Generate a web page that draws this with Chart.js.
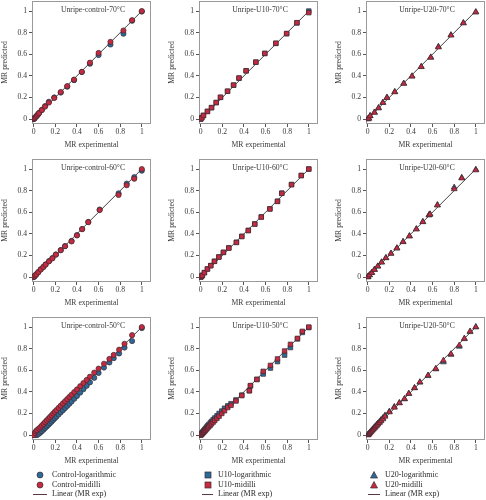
<!DOCTYPE html>
<html>
<head>
<meta charset="utf-8">
<script src="https://cdn.jsdelivr.net/npm/chart.js@4/dist/chart.umd.min.js"></script>
<style>
  html, body { margin: 0; padding: 0; background: #fff; overflow: hidden; }
  #page { position: relative; width: 486px; height: 500px; }
  canvas { position: absolute; }
  .lg { position: absolute; font: 8px "Liberation Serif", serif; color: #2a2a2a; white-space: nowrap; line-height: 10px; will-change: transform; }
  .lg svg { position: absolute; }
</style>
</head>
<body>
<div id="page"></div>
<script>
// ---- data ----
const TICKS = [0, 0.2, 0.4, 0.6, 0.8, 1];
const LINE_X = [0, 1];

// 70 °C
const C70_EXP = [0, 0.005, 0.01, 0.02, 0.03, 0.04, 0.05, 0.075, 0.105, 0.14, 0.19, 0.25, 0.31, 0.373, 0.445, 0.52, 0.6, 0.71, 0.83, 0.91, 1.0];
const C70_LOG = [0, 0.006, 0.012, 0.022, 0.033, 0.045, 0.058, 0.085, 0.12, 0.16, 0.2, 0.245, 0.3, 0.36, 0.435, 0.512, 0.592, 0.69, 0.79, 0.91, 0.995];
const C70_MID = [0, 0.005, 0.011, 0.021, 0.031, 0.042, 0.055, 0.083, 0.115, 0.152, 0.195, 0.25, 0.305, 0.365, 0.437, 0.522, 0.612, 0.715, 0.82, 0.915, 1.0];

const U10_70_EXP = [0, 0.01, 0.025, 0.062, 0.1, 0.143, 0.183, 0.248, 0.304, 0.354, 0.42, 0.51, 0.593, 0.695, 0.795, 0.89, 1.0];
const U10_70_LOG = [0, 0.012, 0.034, 0.071, 0.105, 0.152, 0.2, 0.257, 0.313, 0.378, 0.446, 0.526, 0.607, 0.7, 0.79, 0.89, 1.0];
const U10_70_MID = [0, 0.011, 0.033, 0.07, 0.106, 0.153, 0.202, 0.258, 0.315, 0.38, 0.447, 0.527, 0.608, 0.702, 0.792, 0.892, 0.985];

const U20_70_EXP = [0, 0.01, 0.022, 0.062, 0.1, 0.14, 0.178, 0.25, 0.333, 0.41, 0.495, 0.583, 0.654, 0.77, 0.885, 1.0];
const U20_70_LOG = [0, 0.006, 0.03, 0.062, 0.103, 0.153, 0.2, 0.252, 0.33, 0.397, 0.485, 0.572, 0.67, 0.778, 0.89, 0.99];
const U20_70_MID = [0, 0.005, 0.028, 0.06, 0.101, 0.151, 0.197, 0.25, 0.328, 0.395, 0.483, 0.57, 0.665, 0.775, 0.888, 0.99];

// 60 °C
const C60_EXP = [0, 0.006, 0.015, 0.025, 0.043, 0.065, 0.09, 0.11, 0.142, 0.173, 0.205, 0.25, 0.29, 0.35, 0.4, 0.448, 0.505, 0.61, 0.785, 0.86, 0.93, 1.0];
const C60_LOG = [0, 0.008, 0.016, 0.027, 0.047, 0.072, 0.095, 0.117, 0.148, 0.176, 0.209, 0.25, 0.287, 0.335, 0.388, 0.445, 0.51, 0.625, 0.775, 0.865, 0.925, 0.985];
const C60_MID = [0, 0.006, 0.015, 0.025, 0.045, 0.07, 0.093, 0.115, 0.145, 0.173, 0.207, 0.248, 0.285, 0.33, 0.385, 0.443, 0.508, 0.62, 0.76, 0.85, 0.91, 1.0];

const U10_60_EXP = [0, 0.006, 0.015, 0.034, 0.062, 0.093, 0.127, 0.168, 0.21, 0.26, 0.33, 0.38, 0.44, 0.5, 0.56, 0.64, 0.71, 0.75, 0.84, 0.93, 1.0];
const U10_60_LOG = [0, 0.006, 0.016, 0.041, 0.075, 0.106, 0.146, 0.186, 0.229, 0.27, 0.322, 0.377, 0.432, 0.492, 0.557, 0.632, 0.702, 0.777, 0.857, 0.94, 1.0];
const U10_60_MID = [0, 0.006, 0.015, 0.04, 0.074, 0.105, 0.145, 0.185, 0.228, 0.268, 0.32, 0.375, 0.43, 0.49, 0.555, 0.63, 0.7, 0.775, 0.855, 0.94, 1.0];

const U20_60_EXP = [0, 0.003, 0.016, 0.037, 0.062, 0.093, 0.128, 0.168, 0.215, 0.27, 0.327, 0.386, 0.45, 0.51, 0.567, 0.576, 0.645, 0.8, 0.87, 1.0];
const U20_60_LOG = [0, 0.004, 0.019, 0.041, 0.069, 0.1, 0.138, 0.178, 0.219, 0.268, 0.327, 0.38, 0.445, 0.512, 0.575, 0.582, 0.667, 0.83, 0.92, 0.995];
const U20_60_MID = [0, 0.003, 0.018, 0.04, 0.068, 0.099, 0.136, 0.176, 0.217, 0.266, 0.325, 0.378, 0.443, 0.51, 0.573, 0.58, 0.665, 0.815, 0.915, 0.99];

// 50 °C
const C50_EXP = [0, 0.01, 0.02, 0.03, 0.045, 0.06, 0.075, 0.09, 0.105, 0.12, 0.135, 0.15, 0.165, 0.18, 0.195, 0.21, 0.23, 0.25, 0.27, 0.29, 0.31, 0.33, 0.35, 0.375, 0.4, 0.43, 0.46, 0.49, 0.52, 0.56, 0.6, 0.65, 0.7, 0.74, 0.79, 0.84, 0.91, 1.0];
const C50_LOG = [0, 0, 0, 0, 0.01, 0.022, 0.036, 0.05, 0.064, 0.079, 0.094, 0.109, 0.124, 0.14, 0.155, 0.17, 0.19, 0.21, 0.23, 0.25, 0.27, 0.29, 0.31, 0.336, 0.362, 0.393, 0.425, 0.456, 0.488, 0.53, 0.575, 0.625, 0.672, 0.712, 0.755, 0.81, 0.87, 0.99];
const C50_MID = [0, 0.02, 0.035, 0.045, 0.058, 0.072, 0.088, 0.103, 0.119, 0.135, 0.151, 0.167, 0.183, 0.199, 0.215, 0.231, 0.252, 0.272, 0.293, 0.313, 0.333, 0.353, 0.373, 0.398, 0.422, 0.452, 0.482, 0.51, 0.54, 0.578, 0.615, 0.66, 0.705, 0.742, 0.79, 0.845, 0.925, 1.0];

const U10_50_EXP = [0, 0.005, 0.012, 0.02, 0.028, 0.036, 0.045, 0.055, 0.065, 0.075, 0.088, 0.1, 0.115, 0.13, 0.15, 0.17, 0.195, 0.22, 0.25, 0.28, 0.326, 0.38, 0.45, 0.46, 0.52, 0.578, 0.645, 0.71, 0.776, 0.83, 0.895, 0.94, 1.0];
const U10_50_LOG = [0, 0.01, 0.02, 0.03, 0.04, 0.05, 0.062, 0.074, 0.086, 0.098, 0.112, 0.126, 0.142, 0.158, 0.178, 0.2, 0.222, 0.248, 0.27, 0.29, 0.325, 0.37, 0.41, 0.455, 0.515, 0.565, 0.62, 0.68, 0.74, 0.81, 0.89, 0.95, 0.995];
const U10_50_MID = [0, 0.004, 0.01, 0.018, 0.026, 0.035, 0.045, 0.056, 0.067, 0.078, 0.091, 0.104, 0.12, 0.135, 0.155, 0.175, 0.2, 0.225, 0.255, 0.275, 0.315, 0.365, 0.41, 0.458, 0.515, 0.59, 0.645, 0.705, 0.778, 0.84, 0.895, 0.96, 1.0];

const U20_50_EXP = [0, 0.005, 0.012, 0.02, 0.03, 0.04, 0.05, 0.06, 0.07, 0.082, 0.094, 0.108, 0.122, 0.14, 0.16, 0.2, 0.246, 0.293, 0.34, 0.38, 0.433, 0.483, 0.558, 0.63, 0.7, 0.77, 0.847, 0.894, 0.947, 1.0];
const U20_50_LOG = [0, 0.006, 0.015, 0.025, 0.036, 0.047, 0.058, 0.07, 0.082, 0.095, 0.108, 0.123, 0.139, 0.158, 0.182, 0.218, 0.262, 0.298, 0.333, 0.383, 0.436, 0.488, 0.548, 0.61, 0.675, 0.745, 0.82, 0.89, 0.955, 1.0];
const U20_50_MID = [0, 0.004, 0.012, 0.021, 0.031, 0.042, 0.052, 0.063, 0.074, 0.087, 0.1, 0.114, 0.13, 0.148, 0.172, 0.212, 0.255, 0.296, 0.335, 0.383, 0.436, 0.49, 0.552, 0.615, 0.69, 0.75, 0.83, 0.894, 0.96, 1.0];

const TITLES = [
  "Unripe-control-70°C", "Unripe-U10-70°C", "Unripe-U20-70°C",
  "Unripe-control-60°C", "Unripe-U10-60°C", "Unripe-U20-60°C",
  "Unripe-control-50°C", "Unripe-U10-50°C", "Unripe-U20-50°C",
];
const SERIES = [
  [C70_EXP, C70_LOG, C70_MID], [U10_70_EXP, U10_70_LOG, U10_70_MID], [U20_70_EXP, U20_70_LOG, U20_70_MID],
  [C60_EXP, C60_LOG, C60_MID], [U10_60_EXP, U10_60_LOG, U10_60_MID], [U20_60_EXP, U20_60_LOG, U20_60_MID],
  [C50_EXP, C50_LOG, C50_MID], [U10_50_EXP, U10_50_LOG, U10_50_MID], [U20_50_EXP, U20_50_LOG, U20_50_MID],
];
const LEGENDS = [
  ["Control-logarithmic", "Control-midilli"],
  ["U10-logarithmic", "U10-midilli"],
  ["U20-logarithmic", "U20-midilli"],
];
const LINE_LABEL = "Linear (MR exp)";

// ---- styling ----
const FONT = "'Liberation Serif', serif";
const TXT = "#3a3a3a";
const BLUE = "#2c6b98";
const RED = "#c62a40";
const EDGE = "#3b2a30";
const SHAPES = ["circle", "rect", "triangle"];
const RADII = [2.6, 3.2, 3.4];

const COL_W = 167, ROW_H = 158, CV_W = 152, CV_H = 152;

const frameTitle = {
  id: "frameTitle",
  beforeDatasetsDraw(chart) {
    const { ctx, chartArea: a } = chart;
    ctx.save();
    ctx.strokeStyle = "#9a9a9a";
    ctx.lineWidth = 1;
    ctx.strokeRect(a.left + 0.5, a.top + 0.5, a.right - a.left - 1, a.bottom - a.top - 1);
    ctx.restore();
  },
  afterDraw(chart, args, opts) {
    const { ctx, chartArea: a } = chart;
    ctx.save();
    ctx.font = "7.7px " + FONT;
    ctx.fillStyle = TXT;
    ctx.textAlign = "center";
    ctx.textBaseline = "middle";
    ctx.fillText(opts.text, (a.left + a.right) / 2 + 1.5, a.top + 9);
    ctx.restore();
  },
};

function axis(title, fit) {
  return {
    type: "linear",
    afterBuildTicks: (s) => { s.ticks = TICKS.map((v) => ({ value: v })); },
    afterFit: (s) => {
      // keep the plot box exactly where the reference has it
      s.paddingTop = 0; s.paddingBottom = 0; s.paddingLeft = 0; s.paddingRight = 0;
      fit(s);
    },
    grid: { drawOnChartArea: false, drawTicks: true, tickLength: 3, color: "#555" },
    border: { display: false },
    ticks: {
      font: { family: FONT, size: 7.7 },
      color: TXT,
      padding: 2,
      maxRotation: 0,
      autoSkip: false,
      callback: (v) => String(v),
    },
    title: { display: true, text: title, font: { family: FONT, size: 7.7 }, color: TXT },
  };
}

const page = document.getElementById("page");

SERIES.forEach(([exp, log, mid], i) => {
  const col = i % 3, row = Math.floor(i / 3);
  const canvas = document.createElement("canvas");
  canvas.width = CV_W;
  canvas.height = CV_H;
  canvas.style.left = col * COL_W + "px";
  canvas.style.top = row * ROW_H + "px";
  page.appendChild(canvas);

  const xAxis = axis("MR experimental", (s) => { s.height = 28; });
  xAxis.min = -0.016; xAxis.max = 1.085;
  xAxis.ticks.padding = 0;
  xAxis.title.padding = { top: 0, bottom: 2 };
  const yAxis = axis("MR predicted", (s) => { s.width = 32; });
  yAxis.min = -0.046; yAxis.max = 1.093;
  yAxis.title.padding = 0;

  const pt = (ys) => exp.map((x, k) => ({ x, y: ys[k] }));
  const marker = { pointStyle: SHAPES[col], pointRadius: RADII[col], pointBorderColor: EDGE, pointBorderWidth: 0.7 };

  new Chart(canvas, {
    type: "scatter",
    data: {
      datasets: [
        { label: LEGENDS[col][1], data: pt(mid), backgroundColor: RED, borderColor: EDGE, order: 1, ...marker },
        { label: LEGENDS[col][0], data: pt(log), backgroundColor: BLUE, borderColor: EDGE, order: 2, ...marker },
        {
          type: "line",
          label: LINE_LABEL,
          data: LINE_X.map((x) => ({ x, y: x })),
          borderColor: "#2e2e2e",
          borderWidth: 0.9,
          pointRadius: 0,
          order: 3,
        },
      ],
    },
    options: {
      responsive: false,
      animation: false,
      layout: { autoPadding: false, padding: { top: 1, right: 1, left: 0, bottom: 0 } },
      scales: { x: xAxis, y: yAxis },
      plugins: {
        legend: { display: false },
        tooltip: { enabled: false },
        frameTitle: { text: TITLES[i] },
      },
    },
    plugins: [frameTitle],
  });
});

// ---- legends under each column (HTML) ----
const LEG_POS = [
  { mark: 40, text: 52, line: [33, 47] },
  { mark: 208, text: 218, line: [202, 213] },
  { mark: 374, text: 385, line: [368, 380] },
];
const SVG_SHAPE = [
  (c) => `<circle cx="5" cy="5" r="3" fill="${c}" stroke="${EDGE}" stroke-width="0.7"/>`,
  (c) => `<rect x="2" y="2" width="6" height="6" fill="${c}" stroke="${EDGE}" stroke-width="0.7"/>`,
  (c) => `<polygon points="5,1.5 8.5,8 1.5,8" fill="${c}" stroke="${EDGE}" stroke-width="0.7"/>`,
];
LEG_POS.forEach((p, col) => {
  const rows = [
    { y: 475, color: BLUE, text: LEGENDS[col][0] },
    { y: 485, color: RED, text: LEGENDS[col][1] },
  ];
  rows.forEach((r) => {
    const m = document.createElement("div");
    m.className = "lg";
    m.style.left = p.mark - 5 + "px";
    m.style.top = r.y - 5 + "px";
    m.innerHTML = `<svg width="10" height="10">${SVG_SHAPE[col](r.color)}</svg>`;
    page.appendChild(m);
    const t = document.createElement("div");
    t.className = "lg";
    t.style.left = p.text + "px";
    t.style.top = r.y - 5 + "px";
    t.textContent = r.text;
    page.appendChild(t);
  });
  const ln = document.createElement("div");
  ln.style.cssText = `position:absolute;left:${p.line[0]}px;top:494px;width:${p.line[1] - p.line[0]}px;height:1px;background:#5a3a40;`;
  page.appendChild(ln);
  const t = document.createElement("div");
  t.className = "lg";
  t.style.left = p.text + "px";
  t.style.top = "489px";
  t.textContent = LINE_LABEL;
  page.appendChild(t);
});
</script>
</body>
</html>
